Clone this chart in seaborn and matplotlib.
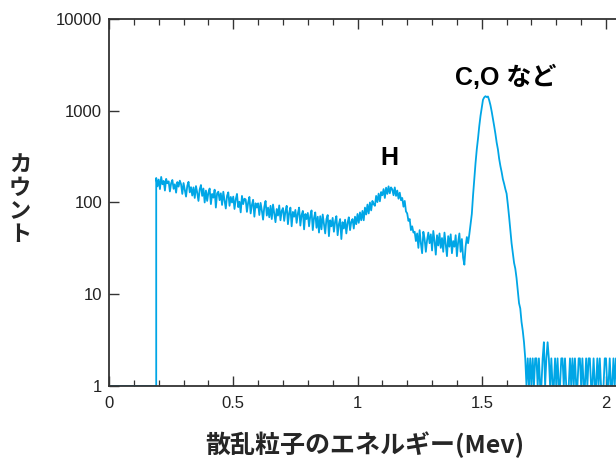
import numpy as np
import pandas as pd
import matplotlib
matplotlib.use("Agg")
import matplotlib.pyplot as plt
import seaborn as sns
from matplotlib.ticker import FixedLocator, MultipleLocator, NullLocator

# ---------------- data ----------------
# below threshold (no counts, drawn at the floor of the log axis)
pre_energy = [0.0, 0.19]
pre_counts = [1, 1]

bin_width = 0.005
start_energy = 0.19

# 0.19 - 0.45 MeV
counts_a = [185, 150, 178, 140, 190, 158, 172, 135, 181, 162,
            170, 132, 162, 176, 141, 158, 128, 167, 149, 173,
            158, 124, 163, 137, 116, 152, 168, 129, 147, 119,
            146, 112, 151, 128, 104, 139, 155, 118, 142, 100,
            135, 104, 128, 142, 96, 124, 113, 138, 88, 126, 131, 106]
# 0.45 - 0.75 MeV
counts_b = [126, 94, 131, 105, 86, 118, 129, 92, 115, 100,
            116, 85, 108, 124, 89, 102, 78, 118, 96, 110,
            108, 79, 100, 115, 76, 94, 107, 70, 98, 88,
            98, 73, 99, 82, 65, 90, 104, 72, 88, 69,
            92, 66, 95, 76, 61, 85, 72, 93, 64, 81,
            87, 63, 80, 92, 58, 77, 88, 55, 79, 70]
# 0.75 - 0.98 MeV
counts_c = [83, 60, 76, 88, 56, 73, 81, 51, 75, 66,
            77, 55, 71, 82, 50, 68, 78, 53, 70, 47,
            71, 51, 74, 58, 46, 66, 73, 43, 64, 55,
            68, 48, 62, 71, 44, 58, 66, 40, 61, 52,
            65, 46, 60, 69, 50, 62]
# 0.98 - 1.24 MeV  (H peak)
counts_d = [66, 52, 70, 58, 75, 60, 78, 64,
            81, 64, 88, 74, 95, 76, 100, 82,
            104, 96, 92, 118, 101, 125, 103, 130,
            120, 140, 112, 145, 124, 150, 126, 146,
            139, 120, 146, 118, 135, 110, 128, 106,
            112, 90, 104, 80, 76, 63,
            66, 50, 55, 47, 48, 38]
# 1.24 - 1.45 MeV
counts_e = [46, 32, 50, 36, 28, 48, 40, 29, 39, 47,
            36, 45, 30, 49, 38, 27, 44, 34, 46, 32,
            41, 29, 47, 35, 26, 43, 33, 45, 28, 38,
            33, 44, 26, 37, 46, 29, 40, 25, 21, 33, 42, 36]
# 1.45 - 1.68 MeV  (C, O peak)
counts_f = [45, 58, 75, 120, 180, 270, 380, 500, 680, 880,
            1080, 1320, 1400, 1440, 1410, 1430, 1300, 1150, 980, 820,
            680, 560, 450, 380, 300, 250, 215, 180, 160, 140,
            125, 95, 70, 50, 36, 28, 22, 19, 15, 11,
            8, 7, 5, 4, 3, 2, 1]
# 1.685 - 2.065 MeV  (tail)
counts_g = [2, 1, 2, 1, 2, 1, 2, 2, 1, 2, 1, 1, 2, 3, 1, 2, 3, 2, 1, 2,
            1, 1, 2, 1, 2, 1, 1, 2, 2, 1, 2, 1, 1, 1, 2, 1, 2, 1, 2, 1,
            1, 2, 2, 1, 2, 1, 1, 2, 1, 2, 2, 1, 1, 2, 1, 1, 2, 1, 2, 1,
            1, 1, 2, 2, 1, 1, 2, 1, 1, 2, 1, 2, 1, 1, 2, 1, 2]

y_ticks = [1, 10, 100, 1000, 10000]
y_tick_labels = ["1", "10", "100", "1000", "10000"]
x_ticks = [0, 0.5, 1, 1.5, 2]
x_tick_labels = ["0", "0.5", "1", "1.5", "2"]

x_label = "散乱粒子のエネルギー(Mev)"
y_label = "カウント"
peak_labels = ["H", "C,O など"]
peak_label_pos = [(1.128, 305), (1.595, 2330)]

# ---------------- build ----------------
spec_counts = counts_a + counts_b + counts_c + counts_d + counts_e + counts_f + counts_g
spec_energy = list(start_energy + bin_width * np.arange(len(spec_counts)))
df = pd.DataFrame({"energy": pre_energy + spec_energy,
                   "counts": pre_counts + spec_counts})

sns.set_theme(style="white")
cjk = ["Noto Sans CJK JP", "DejaVu Sans"]
latin_cjk = ["Liberation Sans", "Noto Sans CJK JP", "DejaVu Sans"]
narrow = ["Liberation Sans Narrow", "Liberation Sans", "DejaVu Sans"]
plt.rcParams["font.family"] = cjk

fig = plt.figure(figsize=(6.16, 4.58), dpi=100)
ax = fig.add_axes([109 / 616, 1 - 386 / 458, 1 - 109 / 616 + 0.01, (386 - 19) / 458])

line_color = "#00a6e6"
sns.lineplot(data=df, x="energy", y="counts", ax=ax, estimator=None, sort=False,
             color=line_color, linewidth=1.3)

ax.set_yscale("log")
ax.set_xlim(0, 2.065)
ax.set_ylim(1, 10000)

ax.yaxis.set_major_locator(FixedLocator(y_ticks))
ax.yaxis.set_minor_locator(NullLocator())
ax.set_yticklabels(y_tick_labels, family=narrow, fontsize=12, color="#222222")
ax.xaxis.set_major_locator(FixedLocator(x_ticks))
ax.xaxis.set_minor_locator(MultipleLocator(0.1))
ax.set_xticklabels(x_tick_labels, family=narrow, fontsize=12, color="#222222")

ax.tick_params(axis="both", which="major", direction="in", length=7, width=1.0,
               color="#333333", top=True, bottom=True, left=True, right=False)
ax.tick_params(axis="x", which="minor", direction="in", length=4.5, width=0.9,
               color="#333333", top=True, bottom=True)
ax.tick_params(axis="x", which="major", pad=7)
ax.tick_params(axis="y", which="major", pad=5)

for side in ["left", "bottom", "top"]:
    ax.spines[side].set_visible(True)
    ax.spines[side].set_color("#333333")
    ax.spines[side].set_linewidth(1.3)
ax.spines["right"].set_visible(False)

ax.set_xlabel("")
ax.set_ylabel("")
fig.text(365 / 616, 1 - 445 / 458, x_label, ha="center", va="center",
         fontsize=18, fontweight="bold", family=cjk)
fig.text(20 / 616, 1 - 200 / 458, "\n".join(y_label), ha="center", va="center",
         fontsize=16, fontweight="bold", family=cjk, linespacing=1.0)

for txt, (px, py) in zip(peak_labels, peak_label_pos):
    ax.text(px, py, txt, ha="center", va="center", fontsize=18,
            fontweight="bold", family=latin_cjk, color="black")

fig.savefig("out.png", dpi=100)
